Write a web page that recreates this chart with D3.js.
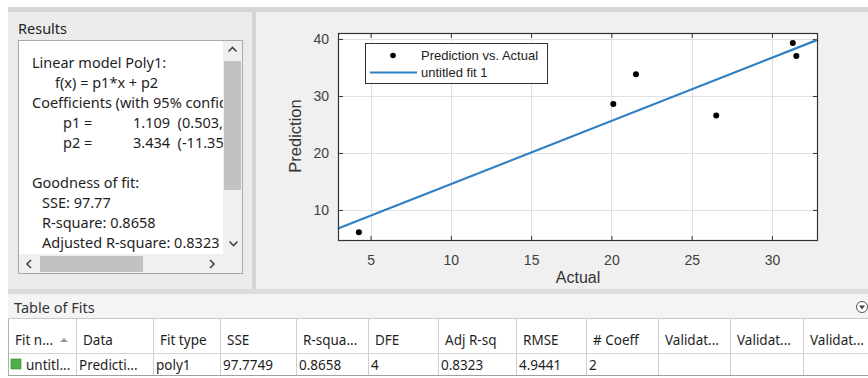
<!DOCTYPE html>
<html><head><meta charset="utf-8">
<script src="https://cdn.jsdelivr.net/npm/d3@7"></script>
<style>
html,body{margin:0;padding:0;background:#fff;}
svg{display:block;}
</style></head>
<body>
<svg id="c" width="868" height="378"></svg>
<script>
// ---- data ----
const actual    = [4.27, 20.12, 21.53, 26.53, 31.30, 31.52];
const predicted = [6.09, 28.60, 33.80, 26.56, 39.30, 37.00];
const p1 = 1.109, p2 = 3.434;
const xTicks = [5, 10, 15, 20, 25, 30];
const yTicks = [10, 20, 30, 40];
const xDomain = [2.97, 32.87];
const yDomain = [4.55, 41.05];
// visible part of the Results text box (clipped by the scrollbar)
const resultLines = [
  "Linear model Poly1:",
  "f(x) = p1*x + p2",
  "Coefficients (with 95% confid",
  "p1 =",
  "p2 =",
  "",
  "Goodness of fit:",
  "SSE: 97.77",
  "R-square: 0.8658",
  "Adjusted R-square: 0.8323"
];
const coefVals = ["1.109  (0.503, 1", "3.434  (-11.35, 1"];
const tableHeaders = ["Fit n...", "Data", "Fit type", "SSE", "R-squa...", "DFE", "Adj R-sq", "RMSE", "# Coeff", "Validat...", "Validat...", "Validat..."];
const tableRow = ["untitl...", "Predicti...", "poly1", "97.7749", "0.8658", "4", "0.8323", "4.9441", "2", "", "", ""];
const colEdges = [8, 76, 153, 220, 296, 368, 438, 516, 586, 658, 730, 803, 868];

const svg = d3.select("#c");
const uiFont = "'Noto Sans', 'Open Sans', sans-serif";
const plotFont = "'Liberation Sans', Arial, sans-serif";

// ---- window background ----
svg.append("rect").attr("x",0).attr("y",0).attr("width",868).attr("height",378).attr("fill","#ffffff");
svg.append("rect").attr("x",8).attr("y",7).attr("width",860).attr("height",5).attr("fill","#d6d6d6");
svg.append("rect").attr("x",8).attr("y",12).attr("width",244).attr("height",277).attr("fill","#ebebeb");
svg.append("rect").attr("x",252).attr("y",12).attr("width",4).attr("height",277).attr("fill","#d4d4d4");
svg.append("rect").attr("x",256).attr("y",12).attr("width",612).attr("height",277).attr("fill","#f0f0f0");
svg.append("rect").attr("x",8).attr("y",289).attr("width",860).attr("height",5).attr("fill","#dcdcdc");
svg.append("rect").attr("x",8).attr("y",294).attr("width",860).attr("height",24).attr("fill","#f4f4f4");
svg.append("line").attr("x1",8).attr("x2",868).attr("y1",318.5).attr("y2",318.5).attr("stroke","#c8c8c8");

// ---- Results panel ----
svg.append("text").attr("x",18).attr("y",34).attr("font-family",uiFont).attr("font-size",14.5).attr("fill","#222").text("Results");
svg.append("rect").attr("x",18.5).attr("y",40.5).attr("width",224).attr("height",233).attr("fill","#fff").attr("stroke","#a8a8a8");
const clip = svg.append("defs").append("clipPath").attr("id","rc");
clip.append("rect").attr("x",19).attr("y",41).attr("width",204).attr("height",213);
const rg = svg.append("g").attr("clip-path","url(#rc)").attr("font-family",uiFont).attr("font-size",14.5).attr("fill","#1e1e1e");
const indents = [32, 55, 32, 63, 63, 32, 32, 42, 42, 42];
resultLines.forEach((t,i)=>{
  rg.append("text").attr("x",indents[i]).attr("y",68 + i*20).text(t);
});
coefVals.forEach((t,i)=>{
  rg.append("text").attr("x",133).attr("y",68 + (3+i)*20).attr("xml:space","preserve").style("white-space","pre").text(t);
});
// vertical scrollbar
svg.append("rect").attr("x",223).attr("y",41).attr("width",19).attr("height",213).attr("fill","#f0f0f0");
svg.append("rect").attr("x",224).attr("y",61).attr("width",17).attr("height",129).attr("fill","#c2c2c2");
svg.append("path").attr("d","M228.5,51.5 L232.5,47.5 L236.5,51.5").attr("fill","none").attr("stroke","#444").attr("stroke-width",1.6);
svg.append("path").attr("d","M229.5,241.5 L233.5,245.5 L237.5,241.5").attr("fill","none").attr("stroke","#444").attr("stroke-width",1.6);
// horizontal scrollbar
svg.append("rect").attr("x",19).attr("y",254).attr("width",223).attr("height",19).attr("fill","#f0f0f0");
svg.append("rect").attr("x",40).attr("y",256).attr("width",103).attr("height",16).attr("fill","#c2c2c2");
svg.append("path").attr("d","M31,260 L27,264 L31,268").attr("fill","none").attr("stroke","#444").attr("stroke-width",1.6);
svg.append("path").attr("d","M210,260 L214,264 L210,268").attr("fill","none").attr("stroke","#444").attr("stroke-width",1.6);

// ---- plot ----
const m = {l:338, t:33, r:818, b:241};
const x = d3.scaleLinear().domain(xDomain).range([m.l, m.r]);
const y = d3.scaleLinear().domain(yDomain).range([m.b, m.t]);
const pw = m.r - m.l, ph = m.b - m.t;

svg.append("rect").attr("x",m.l).attr("y",m.t).attr("width",pw).attr("height",ph).attr("fill","#fff");

const grid = svg.append("g").attr("stroke","#e1e1e1").attr("stroke-width",1);
xTicks.forEach(v=>grid.append("line").attr("x1",Math.round(x(v))+0.5).attr("x2",Math.round(x(v))+0.5).attr("y1",m.t).attr("y2",m.b));
yTicks.forEach(v=>grid.append("line").attr("y1",Math.round(y(v))+0.5).attr("y2",Math.round(y(v))+0.5).attr("x1",m.l).attr("x2",m.r));

const axStyle = g => {
  g.select(".domain").remove();
  g.selectAll(".tick line").attr("stroke","#333").attr("stroke-width",1);
  g.selectAll(".tick text").attr("fill","#404040").attr("font-family",plotFont).attr("font-size",14);
};
svg.append("g").attr("transform",`translate(0,${m.b})`)
  .call(d3.axisBottom(x).tickValues(xTicks).tickSizeInner(-5).tickSizeOuter(0).tickPadding(14)).call(axStyle);
svg.append("g").attr("transform",`translate(0,${m.t})`)
  .call(d3.axisTop(x).tickValues(xTicks).tickSizeInner(-5).tickSizeOuter(0).tickFormat("")).call(axStyle);
svg.append("g").attr("transform",`translate(${m.l},0)`)
  .call(d3.axisLeft(y).tickValues(yTicks).tickSizeInner(-5).tickSizeOuter(0).tickPadding(9)).call(axStyle);
svg.append("g").attr("transform",`translate(${m.r},0)`)
  .call(d3.axisRight(y).tickValues(yTicks).tickSizeInner(-5).tickSizeOuter(0).tickFormat("")).call(axStyle);

// fit line
svg.append("path")
  .datum(xDomain.map(v=>[v, p1*v + p2]))
  .attr("d", d3.line().x(d=>x(d[0])).y(d=>y(d[1])))
  .attr("fill","none").attr("stroke","#2f7fc4").attr("stroke-width",2.2);

// points
svg.append("g").selectAll("circle").data(actual.map((a,i)=>[a,predicted[i]])).join("circle")
  .attr("cx",d=>x(d[0])).attr("cy",d=>y(d[1])).attr("r",3).attr("fill","#000");

svg.append("rect").attr("x",m.l+0.5).attr("y",m.t+0.5).attr("width",pw-1).attr("height",ph-1)
  .attr("fill","none").attr("stroke","#333").attr("stroke-width",1.2);

svg.append("text").attr("x",578).attr("y",283).attr("text-anchor","middle")
  .attr("font-family",plotFont).attr("font-size",16).attr("fill","#333").text("Actual");
svg.append("text").attr("transform","translate(301,136) rotate(-90)").attr("text-anchor","middle")
  .attr("font-family",plotFont).attr("font-size",16.5).attr("fill","#333").text("Prediction");

// legend
const lg = svg.append("g");
lg.append("rect").attr("x",365.5).attr("y",43.5).attr("width",182).attr("height",40).attr("fill","#fff").attr("stroke","#333").attr("stroke-width",1);
lg.append("circle").attr("cx",393).attr("cy",55.5).attr("r",2.8).attr("fill","#000");
lg.append("text").attr("x",421).attr("y",60).attr("font-family",plotFont).attr("font-size",13).attr("fill","#222").text("Prediction vs. Actual");
lg.append("line").attr("x1",370).attr("x2",417).attr("y1",72.5).attr("y2",72.5).attr("stroke","#2f7fc4").attr("stroke-width",2.2);
lg.append("text").attr("x",421).attr("y",77).attr("font-family",plotFont).attr("font-size",13).attr("fill","#222").text("untitled fit 1");

// ---- Table of Fits ----
svg.append("text").attr("x",14).attr("y",313).attr("font-family",uiFont).attr("font-size",14.5).attr("fill","#333").text("Table of Fits");
svg.append("circle").attr("cx",862).attr("cy",307).attr("r",5.5).attr("fill","#fff").attr("stroke","#555").attr("stroke-width",1);
svg.append("path").attr("d","M859,305.5 L865,305.5 L862,309.5 Z").attr("fill","#444");

svg.append("rect").attr("x",8).attr("y",319).attr("width",860).attr("height",56).attr("fill","#fff");
const tg = svg.append("g");
tg.append("line").attr("x1",8).attr("x2",868).attr("y1",353.5).attr("y2",353.5).attr("stroke","#d4d4d4");
tg.append("line").attr("x1",8).attr("x2",868).attr("y1",375.5).attr("y2",375.5).attr("stroke","#a0a0a0");
colEdges.forEach((cx,i)=>{
  tg.append("line").attr("x1",cx+0.5).attr("x2",cx+0.5).attr("y1",319).attr("y2",375)
    .attr("stroke", i===0 ? "#b0b0b0" : "#d0d0d0");
});
tableHeaders.forEach((h,i)=>{
  tg.append("text").attr("x",colEdges[i]+7).attr("y",345).attr("font-family",uiFont).attr("font-size",13.5).attr("fill","#1e1e1e").text(h);
});
tg.append("path").attr("d","M60,342 L64,338 L68,342 Z").attr("fill","#9a9a9a");
tg.append("rect").attr("x",11).attr("y",359).attr("width",10).attr("height",10).attr("fill","#4caf47").attr("stroke","#2e8b2e").attr("stroke-width",0.6);
tableRow.forEach((v,i)=>{
  tg.append("text").attr("x", i===0 ? 26 : colEdges[i]+3).attr("y",369.5).attr("font-family",uiFont).attr("font-size",13.5).attr("fill","#1e1e1e").text(v);
});
</script>
</body></html>
